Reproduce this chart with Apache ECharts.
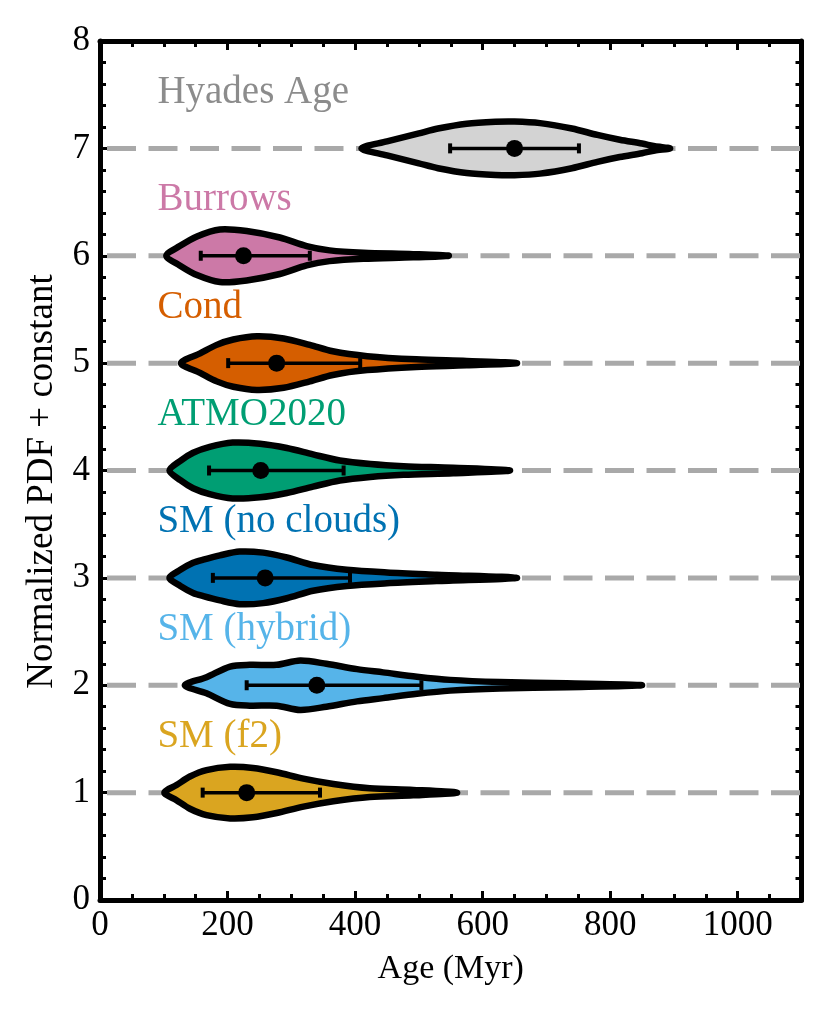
<!DOCTYPE html>
<html>
<head>
    <meta charset="utf-8">
    <title>Age violins</title>
    <script src="https://cdn.jsdelivr.net/npm/echarts@6/dist/echarts.min.js"></script>
    <style>
        body { margin: 0; background: #fff; }
    </style>
</head>
<body>
<div id="main" style="width: 830px;height:1019px;"></div>
<script type="text/javascript">

    // model names, top to bottom, and the level each violin sits on
    var names = ['Hyades Age', 'Burrows', 'Cond', 'ATMO2020', 'SM (no clouds)', 'SM (hybrid)', 'SM (f2)'];
    var levels = [7, 6, 5, 4, 3, 2, 1];

    // violin outlines: age (Myr) and half width (in PDF units)
    var hyadesAge   = [410, 450, 500, 530, 575, 620, 650, 690, 740, 780, 815, 850, 870, 894];
    var hyadesWidth = [0, 0.065, 0.14, 0.185, 0.23, 0.248, 0.25, 0.235, 0.185, 0.125, 0.08, 0.045, 0.02, 0];

    var burrowsAge   = [104, 125, 152, 188, 230, 282, 324, 360, 413, 491, 547];
    var burrowsWidth = [0, 0.09, 0.18, 0.245, 0.23, 0.17, 0.09, 0.05, 0.028, 0.015, 0];

    var condAge   = [127, 157, 183, 209, 246, 288, 329, 365, 419, 496, 575, 654];
    var condWidth = [0, 0.09, 0.17, 0.22, 0.25, 0.23, 0.17, 0.11, 0.065, 0.035, 0.02, 0];

    var atmoAge   = [109, 126, 146, 172, 208, 251, 293, 334, 376, 424, 476, 554, 643];
    var atmoWidth = [0, 0.09, 0.165, 0.22, 0.26, 0.25, 0.21, 0.15, 0.093, 0.06, 0.04, 0.025, 0];

    var noCloudAge   = [109, 126, 146, 162, 188, 219, 256, 293, 334, 387, 450, 528, 654];
    var noCloudWidth = [0, 0.075, 0.14, 0.17, 0.21, 0.245, 0.235, 0.19, 0.12, 0.075, 0.05, 0.03, 0];

    var hybridAge   = [133, 167, 204, 235, 277, 314, 355, 403, 444, 497, 549, 627, 732, 850];
    var hybridWidth = [0, 0.075, 0.174, 0.19, 0.19, 0.23, 0.2, 0.15, 0.12, 0.08, 0.05, 0.03, 0.018, 0];

    var f2Age   = [101, 120, 141, 167, 204, 240, 277, 319, 366, 423, 491, 560];
    var f2Width = [0, 0.07, 0.15, 0.21, 0.24, 0.23, 0.19, 0.13, 0.08, 0.04, 0.025, 0];

    // median and 1-sigma range (Myr)
    var medAge  = [650, 225, 277, 252, 259, 340, 230];
    var lowAge  = [549, 158, 201, 171, 177, 230, 161];
    var highAge = [751, 329, 408, 382, 392, 504, 345];

    var xTicks = [0, 200, 400, 600, 800, 1000];
    var yTicks = [0, 1, 2, 3, 4, 5, 6, 7, 8];

    var ageList = [hyadesAge, burrowsAge, condAge, atmoAge, noCloudAge, hybridAge, f2Age];
    var widthList = [hyadesWidth, burrowsWidth, condWidth, atmoWidth, noCloudWidth, hybridWidth, f2Width];

    var fills = ['#d3d3d3', '#cc79a7', '#d55e00', '#009e73', '#0072b2', '#56b4e9', '#daa520'];
    var textColors = ['#8c8c8c', '#cc79a7', '#d55e00', '#009e73', '#0072b2', '#56b4e9', '#daa520'];
    var labelAge = 90;
    var font = '"Liberation Serif", "DejaVu Serif", serif';

    var myChart = echarts.init(document.getElementById('main'));

    function violinItem(params, api) {
        var i = params.dataIndex;
        var lev = levels[i];
        var a = ageList[i], w = widthList[i];
        var pts = [];
        for (var k = 0; k < a.length; k++) {
            pts.push(api.coord([a[k], lev + w[k]]));
        }
        for (var k = a.length - 2; k > 0; k--) {
            pts.push(api.coord([a[k], lev - w[k]]));
        }
        var lo = api.coord([lowAge[i], lev]);
        var hi = api.coord([highAge[i], lev]);
        var md = api.coord([medAge[i], lev]);
        var lab = api.coord([labelAge, lev + 0.52]);
        return {
            type: 'group',
            children: [{
                type: 'polygon',
                shape: { points: pts, smooth: 0.3 },
                style: { fill: fills[i], stroke: '#000', lineWidth: 6.5, lineJoin: 'round' }
            }, {
                type: 'line',
                shape: { x1: lo[0], y1: lo[1], x2: hi[0], y2: hi[1] },
                style: { stroke: '#000', lineWidth: 3.5 }
            }, {
                type: 'line',
                shape: { x1: lo[0], y1: lo[1] - 5, x2: lo[0], y2: lo[1] + 5 },
                style: { stroke: '#000', lineWidth: 4 }
            }, {
                type: 'line',
                shape: { x1: hi[0], y1: hi[1] - 5, x2: hi[0], y2: hi[1] + 5 },
                style: { stroke: '#000', lineWidth: 4 }
            }, {
                type: 'circle',
                shape: { cx: md[0], cy: md[1], r: 8.5 },
                style: { fill: '#000' }
            }, {
                type: 'text',
                x: lab[0],
                y: lab[1],
                style: {
                    text: names[i],
                    fill: textColors[i],
                    fontSize: 39,
                    fontFamily: font,
                    align: 'left',
                    verticalAlign: 'middle'
                }
            }]
        };
    }

    function guideItem(params, api) {
        var lev = levels[params.dataIndex];
        var p0 = api.coord([0, lev]);
        var p1 = api.coord([1100, lev]);
        return {
            type: 'line',
            shape: { x1: p0[0], y1: p0[1], x2: p1[0], y2: p1[1] },
            style: { stroke: '#a9a9a9', lineWidth: 5, lineDash: [29, 12.5], lineDashOffset: -7 }
        };
    }

    var axisCommon = {
        axisLine: { show: true, onZero: false, lineStyle: { color: '#000', width: 5 } },
        axisTick: { show: true, inside: true, length: 9, lineStyle: { color: '#000', width: 3 } },
        minorTick: { show: true, length: 6, lineStyle: { color: '#000', width: 3 } },
        splitLine: { show: false }
    };

    option = {
        animation: false,
        grid: { left: 100, right: 28.5, top: 41, bottom: 119 },
        xAxis: [
            Object.assign({
                type: 'value', min: 0, max: 1100, interval: 200, position: 'bottom',
                name: 'Age (Myr)', nameLocation: 'middle', nameGap: 52,
                nameTextStyle: { fontSize: 34, fontFamily: font, color: '#000' },
                axisLabel: {
                    fontSize: 35, fontFamily: font, color: '#000', margin: 8,
                    showMaxLabel: false,
                    formatter: function (v) { return xTicks.indexOf(v) >= 0 ? String(v) : ''; }
                }
            }, axisCommon, { minorTick: Object.assign({ splitNumber: 4 }, axisCommon.minorTick) }),
            Object.assign({
                type: 'value', min: 0, max: 1100, interval: 200, position: 'top',
                axisLabel: { show: false }
            }, axisCommon, { minorTick: Object.assign({ splitNumber: 4 }, axisCommon.minorTick) })
        ],
        yAxis: [
            Object.assign({
                type: 'value', min: 0, max: 8, interval: 1, position: 'left',
                name: 'Normalized PDF + constant', nameLocation: 'middle', nameGap: 39,
                nameTextStyle: { fontSize: 37, fontFamily: font, color: '#000', padding: [0, 22, 0, 0] },
                axisLabel: {
                    fontSize: 35, fontFamily: font, color: '#000', margin: 10,
                    formatter: function (v) { return yTicks.indexOf(v) >= 0 ? String(v) : ''; }
                }
            }, axisCommon, { minorTick: Object.assign({ splitNumber: 5 }, axisCommon.minorTick) }),
            Object.assign({
                type: 'value', min: 0, max: 8, interval: 1, position: 'right',
                axisLabel: { show: false }
            }, axisCommon, { minorTick: Object.assign({ splitNumber: 5 }, axisCommon.minorTick) })
        ],
        series: [{
            name: 'guides',
            type: 'custom',
            renderItem: guideItem,
            data: levels,
            z: 1,
            silent: true
        }, {
            name: 'violins',
            type: 'custom',
            renderItem: violinItem,
            data: levels,
            z: 3,
            clip: false
        }]
    };

    myChart.setOption(option);
</script>
</body>
</html>
